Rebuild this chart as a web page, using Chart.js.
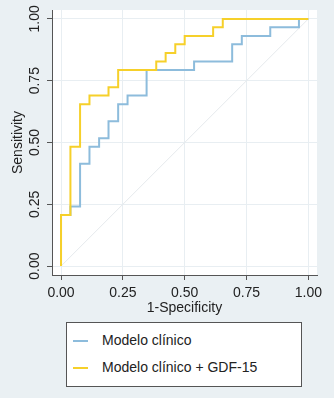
<!DOCTYPE html>
<html>
<head>
<meta charset="utf-8">
<script src="https://cdn.jsdelivr.net/npm/chart.js@4"></script>
<style>
  html, body { margin: 0; padding: 0; background: #eaf0f3; }
  #wrap { position: relative; width: 334px; height: 398px; }
  #legend {
    position: absolute; left: 66px; top: 322px; width: 236px; height: 65px;
    background: #fff; border: 1px solid #555; box-sizing: border-box;
    font-family: "Liberation Sans", Arial, sans-serif; font-size: 14px; color: #222;
  }
  #legend .item { position: absolute; left: 6px; height: 16px; line-height: 16px; white-space: nowrap; }
  #legend .swatch { display: inline-block; width: 15px; height: 2px; vertical-align: middle; margin-right: 14px; }
</style>
</head>
<body>
<div id="wrap">
  <canvas id="roc" width="334" height="398"></canvas>
  <div id="legend"></div>
</div>
<script>
'use strict';

// Rótulos das séries
const seriesNames = ['Modelo clínico', 'Modelo clínico + GDF-15'];

// Curva ROC - modelo clínico (1-especificidade, sensibilidade)
const clinicoFpr = [0, 0, 0.038, 0.077, 0.115, 0.154, 0.192, 0.231, 0.269, 0.346, 0.538, 0.692, 0.731, 0.846, 0.962, 1];
const clinicoTpr = [0, 0.207, 0.241, 0.414, 0.483, 0.517, 0.586, 0.655, 0.690, 0.793, 0.828, 0.897, 0.931, 0.966, 1, 1];

// Curva ROC - modelo clínico + GDF-15
const gdfFpr = [0, 0, 0.038, 0.077, 0.115, 0.192, 0.231, 0.385, 0.423, 0.462, 0.5, 0.615, 0.654, 1];
const gdfTpr = [0, 0.207, 0.483, 0.655, 0.690, 0.724, 0.793, 0.828, 0.862, 0.897, 0.931, 0.966, 1, 1];

// Linha de referência
const refX = [0, 1];
const refY = [0, 1];

// Marcas dos eixos
const tickValues = [0, 0.25, 0.5, 0.75, 1];
const tickLabels = ['0.00', '0.25', '0.50', '0.75', '1.00'];

const toPoints = (xs, ys) => xs.map((x, i) => ({ x: x, y: ys[i] }));

const font = { family: '"Liberation Sans", Arial, sans-serif', size: 14 };
const colors = ['#8dbcdc', '#f6d02a'];

// Fundo branco da área do gráfico
const plotBackground = {
    id: 'plotBackground',
    beforeDraw(chart) {
        const a = chart.chartArea;
        const c = chart.ctx;
        c.save();
        c.fillStyle = '#ffffff';
        c.fillRect(a.left, a.top, a.right - a.left, a.bottom - a.top);
        c.restore();
    }
};

function fixedTicks(scale) {
    scale.ticks = tickValues.map(v => ({ value: v }));
}

const ctx = document.getElementById('roc').getContext('2d');
const chart = new Chart(ctx, {
    type: 'scatter',
    data: {
        datasets: [
            {
                label: 'Referência',
                data: toPoints(refX, refY),
                showLine: true,
                borderColor: '#e6eaed',
                borderWidth: 1,
                pointRadius: 0,
                order: 3
            },
            {
                label: seriesNames[0],
                data: toPoints(clinicoFpr, clinicoTpr),
                showLine: true,
                stepped: 'before',
                borderColor: colors[0],
                borderWidth: 2,
                pointRadius: 0,
                order: 2
            },
            {
                label: seriesNames[1],
                data: toPoints(gdfFpr, gdfTpr),
                showLine: true,
                stepped: 'before',
                borderColor: colors[1],
                borderWidth: 2,
                pointRadius: 0,
                order: 1
            }
        ]
    },
    options: {
        responsive: false,
        animation: false,
        events: [],
        layout: { padding: { top: 10, right: 17, bottom: 81, left: 0 } },
        plugins: { legend: { display: false }, tooltip: { enabled: false } },
        scales: {
            x: {
                type: 'linear',
                min: -0.0365,
                max: 1.035,
                afterBuildTicks: fixedTicks,
                afterFit(scale) { scale.height = 42; },
                border: { color: '#555', width: 1 },
                grid: { color: '#e8eef2', tickColor: '#555', tickLength: 5 },
                ticks: {
                    font: font, color: '#222', padding: 5,
                    maxRotation: 0, minRotation: 0,
                    callback: (v) => tickLabels[tickValues.indexOf(v)]
                },
                title: { display: true, text: '1-Specificity', font: font, color: '#222', padding: { top: 0, bottom: 0 } }
            },
            y: {
                type: 'linear',
                min: -0.036,
                max: 1.036,
                afterBuildTicks: fixedTicks,
                afterFit(scale) { scale.width = 52; },
                border: { color: '#555', width: 1 },
                grid: { color: '#e8eef2', tickColor: '#555', tickLength: 5 },
                ticks: {
                    font: font, color: '#222', padding: -2,
                    minRotation: 90, maxRotation: 90, crossAlign: 'center',
                    callback: (v) => tickLabels[tickValues.indexOf(v)]
                },
                title: { display: true, text: 'Sensitivity', font: font, color: '#222', padding: { top: 10, bottom: 0 } }
            }
        }
    },
    plugins: [plotBackground]
});

// Legenda em HTML construída a partir dos conjuntos de dados
const legendElem = document.getElementById('legend');
[chart.data.datasets[1], chart.data.datasets[2]].forEach((ds, i) => {
    const item = document.createElement('div');
    item.className = 'item';
    item.style.top = (9 + i * 27) + 'px';
    const sw = document.createElement('span');
    sw.className = 'swatch';
    sw.style.background = ds.borderColor;
    item.appendChild(sw);
    item.appendChild(document.createTextNode(ds.label));
    legendElem.appendChild(item);
});
</script>
</body>
</html>
